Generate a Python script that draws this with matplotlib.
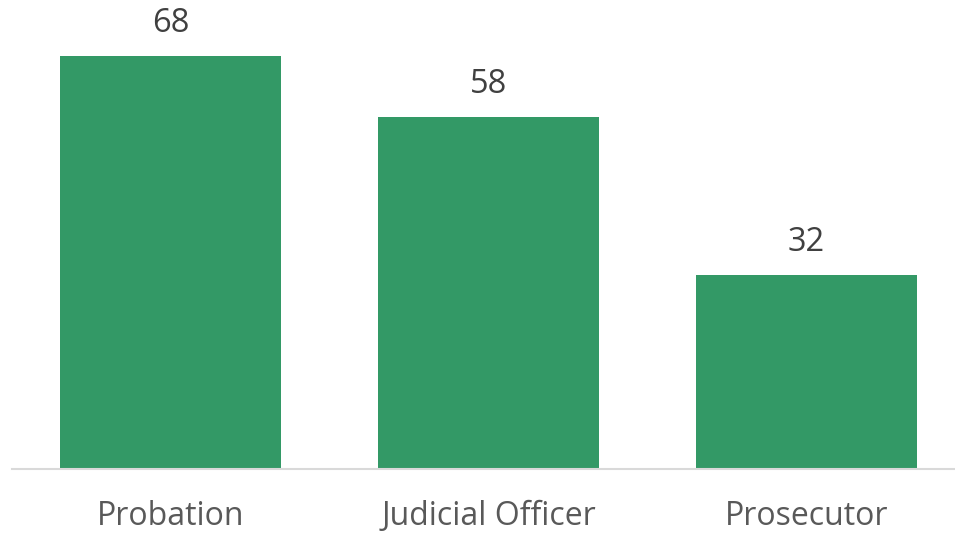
import matplotlib
matplotlib.use("Agg")
import matplotlib.pyplot as plt

categories = ["Probation", "Judicial Officer", "Prosecutor"]
values = [68, 58, 32]

BAR_COLOR = "#339966"

fig = plt.figure(figsize=(9.55, 5.34), dpi=100)
ax = fig.add_axes([12 / 955, 65 / 534, 943 / 955, 455 / 534])

x = range(len(categories))
bars = ax.bar(x, values, width=0.695, color=BAR_COLOR)

ax.set_xlim(-0.5, 2.467)
ax.set_ylim(0, 75)

for b, v in zip(bars, values):
    ax.annotate(str(v), (b.get_x() + b.get_width() / 2, v),
                xytext=(0, 11.5), textcoords="offset points",
                ha="center", va="bottom", fontsize=23.5,
                family="Open Sans", color="#404040")

ax.set_xticks(list(x))
ax.set_xticklabels(categories, fontsize=23, family="Open Sans", color="#595959")
ax.tick_params(axis="x", length=0, pad=22)
ax.set_yticks([])

for s in ["top", "right", "left"]:
    ax.spines[s].set_visible(False)
ax.spines["bottom"].set_color("#d9d9d9")
ax.spines["bottom"].set_linewidth(1.5)

fig.savefig("out.png", dpi=100)
